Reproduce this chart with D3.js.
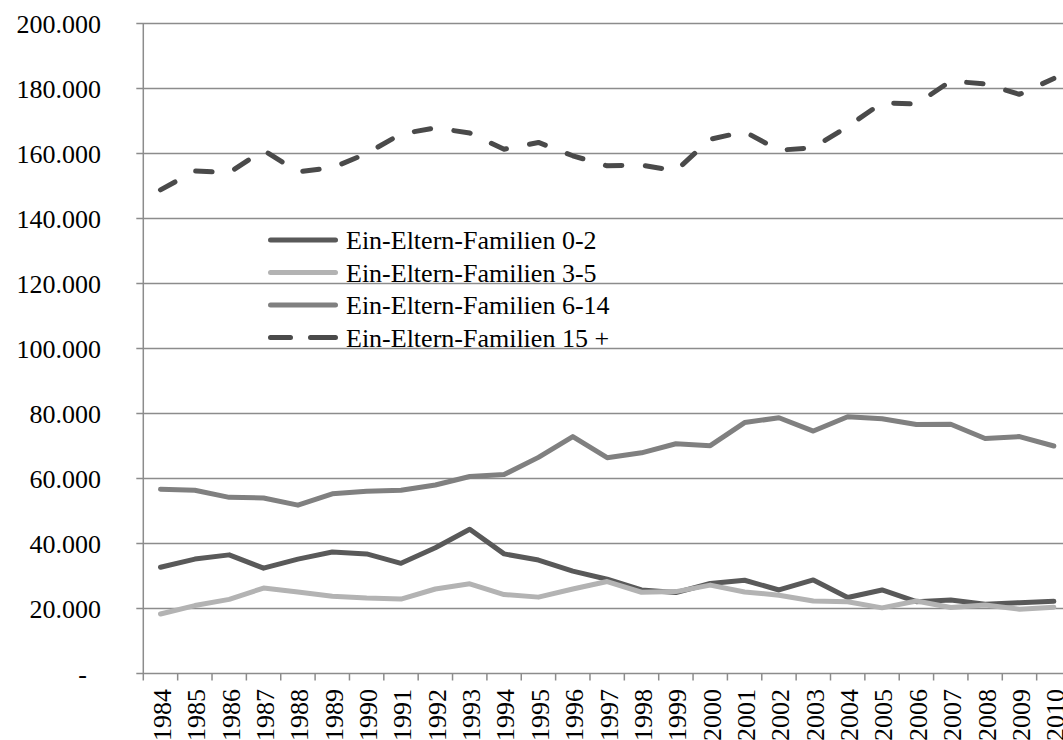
<!DOCTYPE html>
<html>
<head>
<meta charset="utf-8">
<script src="https://cdn.jsdelivr.net/npm/d3@7"></script>
<style>
  html, body { margin: 0; padding: 0; background: #fff; overflow: hidden; }
  svg { display: block; }
  svg text { font-family: "Liberation Serif", "DejaVu Serif", serif; }
</style>
</head>
<body>
<svg id="chart" width="1063" height="740"></svg>
<script>
const years = ["1984","1985","1986","1987","1988","1989","1990","1991","1992","1993","1994","1995","1996","1997","1998","1999","2000","2001","2002","2003","2004","2005","2006","2007","2008","2009","2010"];

const seriesNames = ["Ein-Eltern-Familien 0-2", "Ein-Eltern-Familien 3-5", "Ein-Eltern-Familien 6-14", "Ein-Eltern-Familien 15 +"];

const values0to2 = [32700, 35200, 36500, 32400, 35200, 37400, 36800, 33900, 38700, 44400, 36800, 34900, 31500, 29000, 25700, 24900, 27700, 28700, 25700, 28800, 23400, 25700, 22100, 22600, 21300, 21800, 22200];
const values3to5 = [18300, 20900, 22800, 26300, 25100, 23800, 23200, 22900, 26000, 27600, 24300, 23500, 26000, 28300, 25000, 25200, 27200, 25100, 24100, 22300, 22100, 20200, 22300, 20300, 21100, 19800, 20400];
const values6to14 = [56700, 56400, 54200, 54000, 51800, 55300, 56100, 56400, 58000, 60600, 61200, 66500, 72900, 66400, 67900, 70700, 70100, 77200, 78700, 74600, 79000, 78400, 76600, 76700, 72300, 72900, 70000];
const values15plus = [148800, 154600, 154100, 161000, 154400, 155600, 160000, 166000, 167900, 166300, 161300, 163400, 159300, 156200, 156400, 154700, 164400, 166700, 161000, 161800, 168300, 175600, 175200, 182300, 181400, 178200, 183100];

const yTicks = [0, 20000, 40000, 60000, 80000, 100000, 120000, 140000, 160000, 180000, 200000];
const yTickLabels = ["-", "20.000", "40.000", "60.000", "80.000", "100.000", "120.000", "140.000", "160.000", "180.000", "200.000"];

const seriesData = [values0to2, values3to5, values6to14, values15plus];
const colors = ["#595959", "#b3b3b3", "#808080", "#4a4a4a"];
const dashes = [null, null, null, "16.5,23.5"];

const svg = d3.select("#chart");
const FONT = '"Liberation Serif", "DejaVu Serif", serif';
const left = 143.3, band = 34.36;
const x = d3.scaleBand().domain(years).range([left, left + band * years.length]).paddingInner(0).paddingOuter(0);
const y = d3.scaleLinear().domain([0, 200000]).range([673.5, 23.5]);
const fontSize = 26;

// gridlines
svg.append("g").selectAll("line").data(yTicks.filter(d => d > 0)).join("line")
  .attr("x1", left - 7).attr("x2", x.range()[1])
  .attr("y1", d => y(d)).attr("y2", d => y(d))
  .attr("stroke", "#8c8c8c").attr("stroke-width", 1.5);

// y axis line
svg.append("line").attr("x1", left).attr("x2", left).attr("y1", y(200000)).attr("y2", y(0))
  .attr("stroke", "#8c8c8c").attr("stroke-width", 1.5);
// x axis line
svg.append("line").attr("x1", left - 7).attr("x2", x.range()[1]).attr("y1", y(0)).attr("y2", y(0))
  .attr("stroke", "#8c8c8c").attr("stroke-width", 1.5);
// x ticks at band boundaries
const boundaries = years.map(d => x(d)).concat([x.range()[1]]);
svg.append("g").selectAll("line").data(boundaries).join("line")
  .attr("x1", d => d).attr("x2", d => d).attr("y1", y(0)).attr("y2", y(0) + 7)
  .attr("stroke", "#8c8c8c").attr("stroke-width", 1.5);

// y labels
svg.append("g").selectAll("text").data(yTicks).join("text")
  .attr("x", (d, i) => d === 0 ? 87 : 101)
  .attr("y", d => y(d))
  .attr("dy", "0.35em")
  .attr("text-anchor", "end")
  .attr("font-family", FONT)
  .attr("font-size", fontSize)
  .attr("fill", "#000")
  .text((d, i) => yTickLabels[i]);

// x labels
svg.append("g").selectAll("text").data(years).join("text")
  .attr("transform", d => `translate(${x(d) + x.bandwidth() / 2},689) rotate(-90)`)
  .attr("dy", "0.4em")
  .attr("text-anchor", "end")
  .attr("font-family", FONT)
  .attr("font-size", fontSize)
  .attr("fill", "#000")
  .text(d => d);

// lines
const line = d3.line().x((d, i) => x(years[i]) + x.bandwidth() / 2).y(d => y(d));
seriesData.forEach((vals, k) => {
  const p = svg.append("path").datum(vals)
    .attr("d", line)
    .attr("fill", "none")
    .attr("stroke", colors[k])
    .attr("stroke-width", 5)
    .attr("stroke-linejoin", "round")
    .attr("stroke-linecap", "round");
  if (dashes[k]) p.attr("stroke-dasharray", dashes[k]);
});

// legend
const legendY = [240, 272.5, 305, 337.5];
const lg = svg.append("g");
seriesNames.forEach((name, k) => {
  const l = lg.append("line")
    .attr("x1", 270.5).attr("x2", 335.5)
    .attr("y1", legendY[k]).attr("y2", legendY[k])
    .attr("stroke", colors[k]).attr("stroke-width", 5)
    .attr("stroke-linecap", "round");
  if (dashes[k]) l.attr("stroke-dasharray", "20,20,25");
  lg.append("text")
    .attr("x", 346).attr("y", legendY[k]).attr("dy", "0.35em")
    .attr("font-family", FONT)
    .attr("font-size", fontSize).attr("fill", "#000")
    .text(name);
});
</script>
</body>
</html>
